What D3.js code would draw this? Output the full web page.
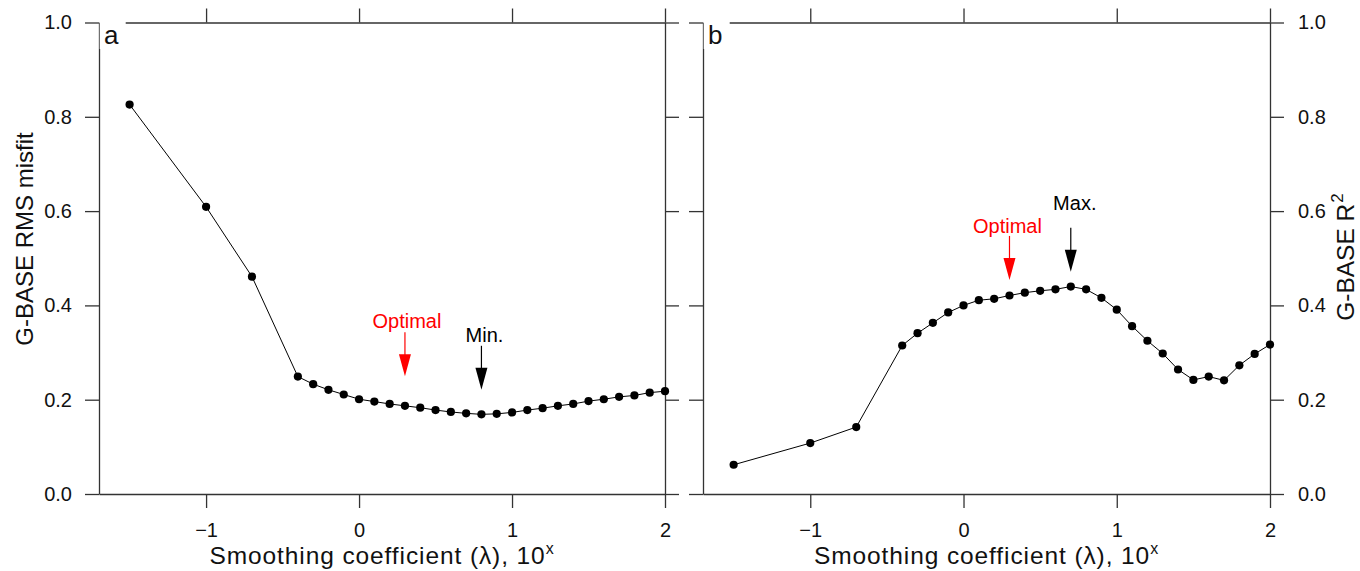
<!DOCTYPE html>
<html>
<head>
<meta charset="utf-8">
<script src="https://cdn.jsdelivr.net/npm/d3@7"></script>
<style>
  body { margin: 0; background: #fff; }
  svg { display: block; }
  text { font-family: "Liberation Sans", Arial, Helvetica, sans-serif; }
</style>
</head>
<body>
<svg id="chart" width="1360" height="571"></svg>
<script>
// smoothing coefficient, log10 lambda
const lambda = [-1.5, -1.0, -0.7, -0.4, -0.3, -0.2, -0.1, 0.0, 0.1, 0.2, 0.3, 0.4, 0.5,
  0.6, 0.7, 0.8, 0.9, 1.0, 1.1, 1.2, 1.3, 1.4, 1.5, 1.6, 1.7, 1.8, 1.9, 2.0];

// panel a - G-BASE RMS misfit
const rmsMisfit = [0.826, 0.609, 0.461, 0.249, 0.233, 0.221, 0.211, 0.201, 0.196, 0.191, 0.187,
  0.183, 0.178, 0.174, 0.171, 0.169, 0.170, 0.173, 0.178, 0.182, 0.187, 0.191, 0.197, 0.201,
  0.206, 0.209, 0.215, 0.218];

// panel b - G-BASE R^2
const rSquared = [0.062, 0.108, 0.142, 0.315, 0.341, 0.363, 0.385, 0.400, 0.411, 0.414, 0.421,
  0.427, 0.431, 0.434, 0.440, 0.434, 0.416, 0.391, 0.356, 0.325, 0.298, 0.264, 0.242, 0.249,
  0.241, 0.273, 0.297, 0.317];

const xTicks = [-1, 0, 1, 2];
const yTicks = [0, 0.2, 0.4, 0.6, 0.8, 1.0];

// arrows: x, arrow tip value, text baseline value
const notesA = [
  { label: "Optimal", x: 0.3, tip: 0.250, text: 0.352, color: "#ff0000", dx: 2 },
  { label: "Min.", x: 0.8, tip: 0.221, text: 0.323, color: "#000", dx: 3 },
];
const notesB = [
  { label: "Optimal", x: 0.3, tip: 0.454, text: 0.5535, color: "#ff0000", dx: -2 },
  { label: "Max.", x: 0.7, tip: 0.4715, text: 0.602, color: "#000", dx: 4 },
];

const svg = d3.select("#chart");
const yTop = 22.5, yBottom = 494;
const tickLen = 14;

const y = d3.scaleLinear().domain([0, 1]).range([yBottom, yTop]);

const panels = [
  { name: "a", left: 99, right: 665, values: rmsMisfit, notes: notesA, labels: "left" },
  { name: "b", left: 703, right: 1270, values: rSquared, notes: notesB, labels: "right" },
];

function styleAxis(g) {
  g.selectAll(".domain, .tick line").attr("stroke", "#333").attr("stroke-width", 1.3);
  g.selectAll("text").attr("font-size", 20).attr("fill", "#111")
    .attr("font-family", '"Liberation Sans", Arial, sans-serif');
}

panels.forEach((p) => {
  const x = d3.scaleLinear().domain([-1.7, 2]).range([p.left, p.right]);
  const g = svg.append("g");

  // frame with outward ticks on all four sides
  g.append("g").attr("transform", `translate(0,${yTop})`)
    .call(d3.axisTop(x).tickValues(xTicks).tickSize(tickLen).tickSizeOuter(0).tickFormat(""))
    .call(styleAxis);

  g.append("g").attr("transform", `translate(0,${yBottom})`)
    .call(d3.axisBottom(x).tickValues(xTicks).tickSize(tickLen).tickSizeOuter(0)
      .tickPadding(15).tickFormat(d3.format("d")))
    .call(styleAxis);

  g.append("g").attr("transform", `translate(${p.left},0)`)
    .call(d3.axisLeft(y).tickValues(yTicks).tickSize(tickLen).tickSizeOuter(0).tickPadding(13)
      .tickFormat(p.labels === "left" ? d3.format(".1f") : ""))
    .call(styleAxis);

  g.append("g").attr("transform", `translate(${p.right},0)`)
    .call(d3.axisRight(y).tickValues(yTicks).tickSize(tickLen).tickSizeOuter(0).tickPadding(14)
      .tickFormat(p.labels === "right" ? d3.format(".1f") : ""))
    .call(styleAxis);

  // line + dots
  const pts = lambda.map((l, i) => [l, p.values[i]]);
  g.append("path")
    .datum(pts)
    .attr("fill", "none")
    .attr("stroke", "#000")
    .attr("stroke-width", 1)
    .attr("d", d3.line().x((d) => x(d[0])).y((d) => y(d[1])));

  g.selectAll("circle")
    .data(pts)
    .enter()
    .append("circle")
    .attr("cx", (d) => x(d[0]))
    .attr("cy", (d) => y(d[1]))
    .attr("r", 4.1)
    .attr("fill", "#000");

  // arrows and notes
  p.notes.forEach((n) => {
    const ax = x(n.x);
    const tipY = y(n.tip);
    g.append("line")
      .attr("x1", ax).attr("x2", ax)
      .attr("y1", tipY - 44).attr("y2", tipY - 20)
      .attr("stroke", n.color).attr("stroke-width", 1.2);
    g.append("path")
      .attr("d", `M${ax - 6},${tipY - 22}L${ax + 6},${tipY - 22}L${ax},${tipY}Z`)
      .attr("fill", n.color);
    g.append("text")
      .attr("x", ax + n.dx)
      .attr("y", y(n.text))
      .attr("text-anchor", "middle")
      .attr("font-size", 20)
      .attr("fill", n.color)
      .text(n.label);
  });

  // x axis title
  const xt = g.append("text")
    .attr("x", (p.left + p.right) / 2)
    .attr("y", 564)
    .attr("text-anchor", "middle")
    .attr("font-size", 24.5)
    .attr("letter-spacing", 0.9)
    .attr("fill", "#111");
  xt.append("tspan").text("Smoothing coefficient (λ), 10");
  xt.append("tspan").attr("dy", -10).attr("font-size", 16).text("x");

  // panel letter on a white box
  g.append("rect")
    .attr("x", p.left + 0.7).attr("y", yTop - 1.5)
    .attr("width", 26).attr("height", 28)
    .attr("fill", "#fff");
  g.append("text")
    .attr("x", p.left + 5)
    .attr("y", yTop + 21.5)
    .attr("font-size", 26)
    .attr("fill", "#111")
    .text(p.name);
});

// y axis titles
svg.append("text")
  .attr("transform", "translate(33,239) rotate(-90)")
  .attr("text-anchor", "middle")
  .attr("font-size", 24)
  .attr("fill", "#111")
  .text("G-BASE RMS misfit");

const rt = svg.append("text")
  .attr("transform", "translate(1354,257) rotate(-90)")
  .attr("text-anchor", "middle")
  .attr("font-size", 24.5)
  .attr("fill", "#111");
rt.append("tspan").text("G-BASE R");
rt.append("tspan").attr("dx", 1).attr("dy", -11).attr("font-size", 17).text("2");
</script>
</body>
</html>
